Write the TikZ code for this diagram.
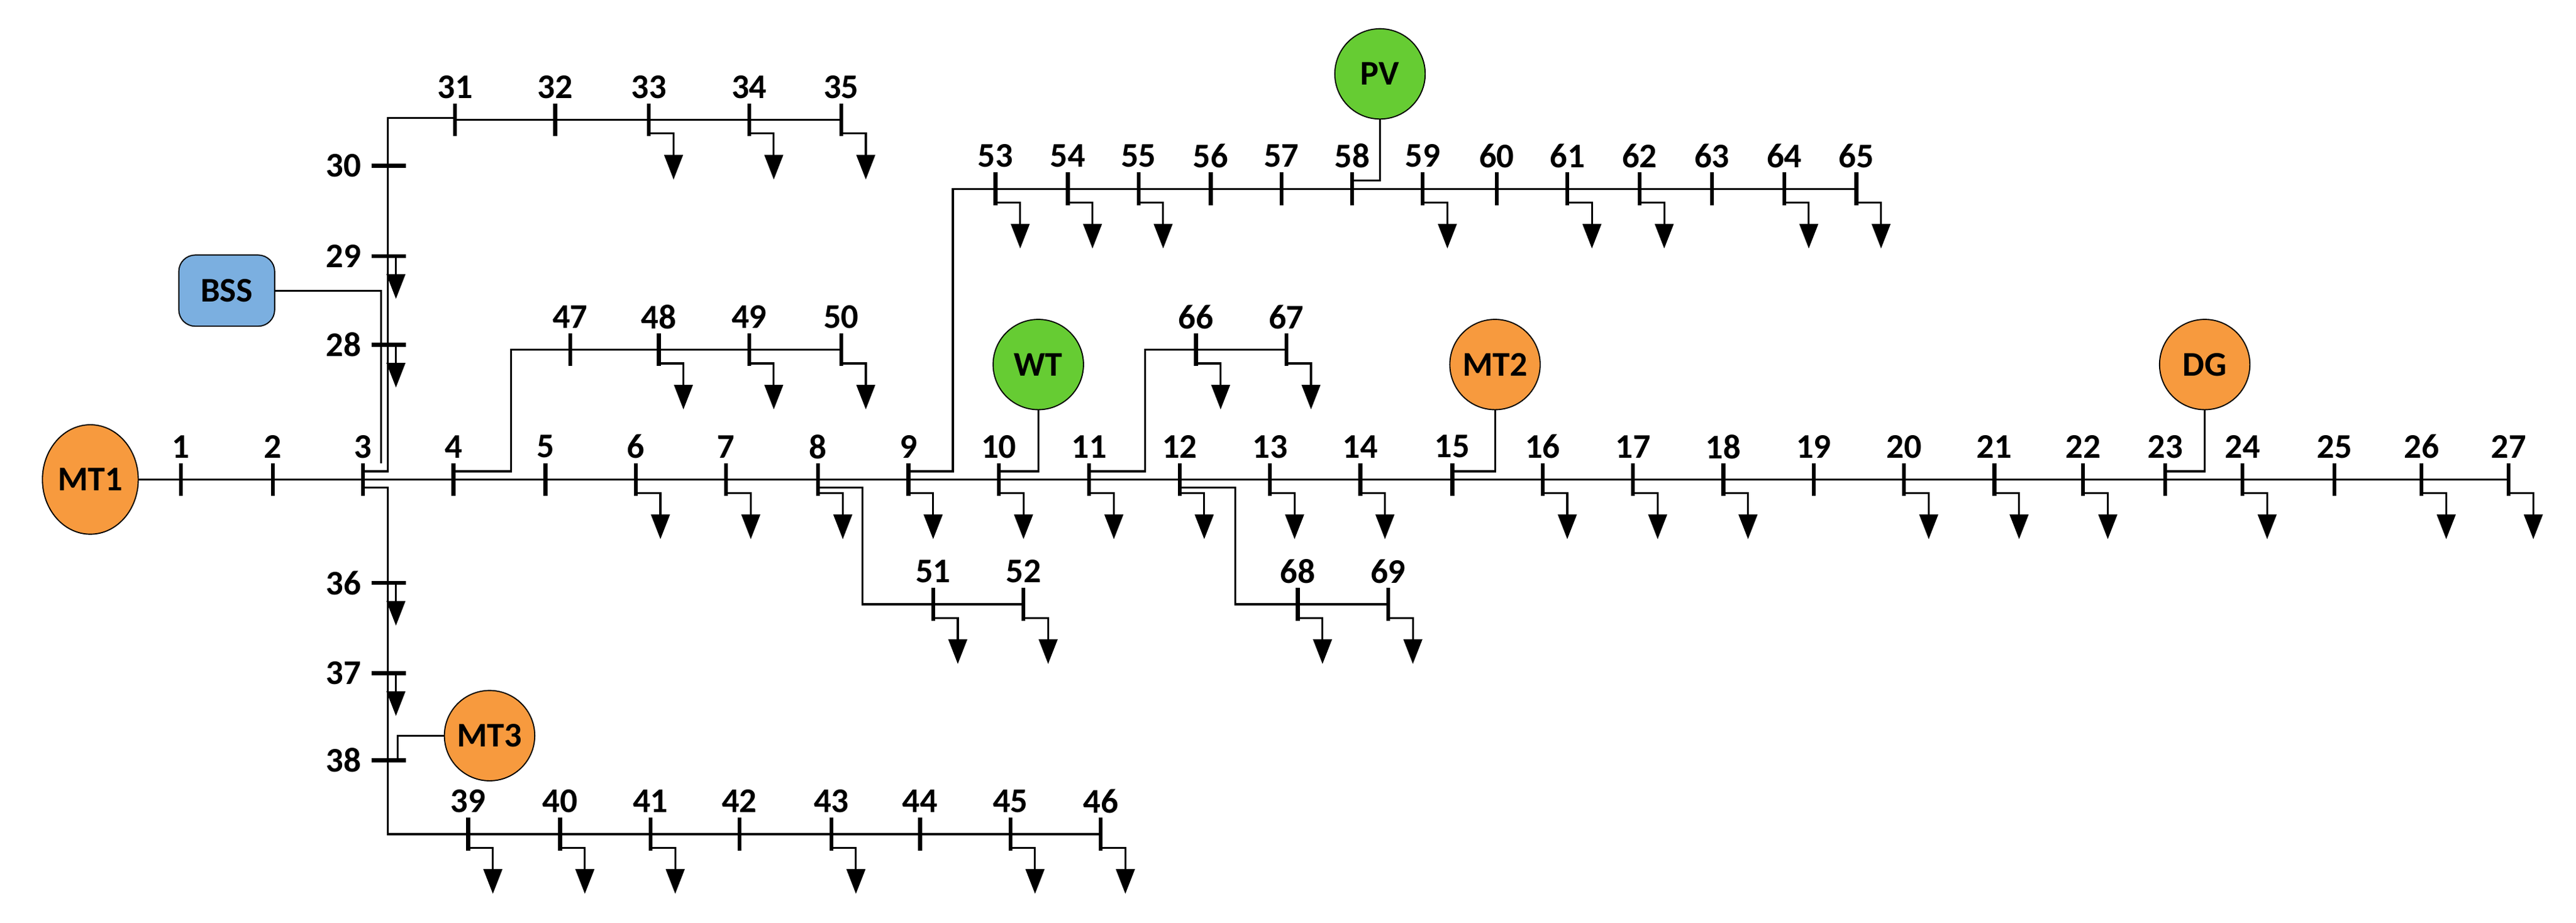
\documentclass[tikz,border=0pt]{standalone}
\usepackage{fontspec}
\setmainfont{Carlito}
\usetikzlibrary{arrows.meta,shapes.geometric}
\definecolor{orng}{HTML}{F79A3E}
\definecolor{grn}{HTML}{66CC33}
\definecolor{bssb}{HTML}{7BAFE0}
\begin{document}
\begin{tikzpicture}[x=0.03cm,y=-0.03cm,
  lab/.style={font=\fontsize{18}{20}\selectfont\bfseries,inner sep=0},
  tick/.style={line width=2pt},
  wire/.style={line width=1pt},
  ld/.style={line width=1pt,-{Triangle[length=0.45cm,width=0.34cm]}},
  gen/.style={circle,draw,line width=0.6pt,minimum size=1.65cm,font=\fontsize{18}{20}\selectfont\bfseries,inner sep=0}]
\useasboundingbox (0,0) rectangle (1568,562);
% vertical-tick buses
\foreach \n/\x/\y in {1/110/292,2/166/292,3/221/292,4/276/292,5/332/292,6/387/292,7/442/292,8/498/292,9/553/292,10/608/292,11/663/292,12/718/292,13/773/292,14/828/292,15/884/292,16/939/292,17/994/292,18/1049/292,19/1104/292,20/1159/292,21/1214/292,22/1268/292,23/1318/292,24/1365/292,25/1421/292,26/1474/292,27/1527/292,
 31/277/73,32/338/73,33/395/73,34/456/73,35/512/73,
 47/347/213,48/401/213,49/456/213,50/512/213,
 39/285/508,40/341/508,41/396/508,42/450/508,43/506/508,44/560/508,45/615/508,46/670/508,
 51/568/368,52/623/368,
 53/606/115,54/650/115,55/693/115,56/737/115,57/780/115,58/823/115,59/866/115,60/911/115,61/954/115,62/998/115,63/1042/115,64/1086/115,65/1130/115,
 66/728/213,67/783/213,68/790/368,69/845/368}{
  \coordinate (b\n) at (\x,\y);
  \draw[tick] (\x,\y-10) -- (\x,\y+10);
  \node[lab] (l\n) at (\x,\y-20) {\n};
}
% horizontal-tick buses
\foreach \n/\y in {30/101,29/156,28/210,36/355,37/410,38/463}{
  \coordinate (b\n) at (236,\y);
  \draw[tick] (226,\y) -- (247,\y);
  \node[lab,anchor=east] (l\n) at (220,\y) {\n};
}
% lines
\draw[wire] (b1) -- (b27);
\draw[wire] (b31) -- (b35);
\draw[wire] (b47) -- (b50);
\draw[wire] (b39) -- (b46);
\draw[wire] (b51) -- (b52);
\draw[wire] (b53) -- (b65);
\draw[wire] (b66) -- (b67);
\draw[wire] (b68) -- (b69);
\coordinate (c3a) at (221,287); \coordinate (c3b) at (221,297);
\draw[wire] (c3a) -- (236,287) -- (236,72) -- (277,72);
\draw[wire] (c3b) -- (236,297) -- (236,508) -- (b39);
\draw[wire] (276,287) -- (311,287) -- (311,213) -- (b47);
\draw[wire] (498,297) -- (525,297) -- (525,368) -- (b51);
\draw[wire] (553,287) -- (580,287) -- (580,115) -- (b53);
\draw[wire] (663,287) -- (697,287) -- (697,213) -- (b66);
\draw[wire] (718,297) -- (752,297) -- (752,368) -- (b68);
% generators
\node[draw,ellipse,line width=0.6pt,fill=orng,minimum width=1.75cm,minimum height=2cm,inner sep=0,font=\fontsize{18}{20}\selectfont\bfseries] (mt1) at (55,292) {MT1};
\draw[wire] (mt1) -- (b1);
\node[gen,fill=grn] (pv) at (840,45) {PV};
\draw[wire] (pv) -- (840,110) -- (823,110);
\node[gen,fill=grn] (wt) at (632,222) {WT};
\draw[wire] (wt) -- (632,287) -- (608,287);
\node[gen,fill=orng] (mt2) at (910,222) {MT2};
\draw[wire] (mt2) -- (910,287) -- (884,287);
\node[gen,fill=orng] (dg) at (1342,222) {DG};
\draw[wire] (dg) -- (1342,287) -- (1318,287);
\node[gen,fill=orng] (mt3) at (298,448) {MT3};
\draw[wire] (mt3) -- (242,448) -- (242,463);
\node[draw,rounded corners=0.3cm,fill=bssb,minimum width=1.75cm,minimum height=1.3cm,line width=0.6pt,font=\fontsize{18}{20}\selectfont\bfseries] (bss) at (138,177) {BSS};
\draw[wire] (bss) -- (232,177) -- (232,282);
% loads on vertical buses
\foreach \n in {6,7,8,9,10,11,12,13,14,16,17,18,20,21,22,24,26,27,33,34,35,48,49,50,39,40,41,43,45,46,51,52,53,54,55,59,61,62,64,65,66,67,68,69}{
  \draw[ld] ([yshift=-0.25cm]b\n) -- ++(15,0) -- ++(0,28);
}
% loads on horizontal buses
\foreach \n in {29,28,36,37}{
  \draw[ld] ([xshift=0.15cm]b\n) -- ++(0,26);
}
\end{tikzpicture}
\end{document}
